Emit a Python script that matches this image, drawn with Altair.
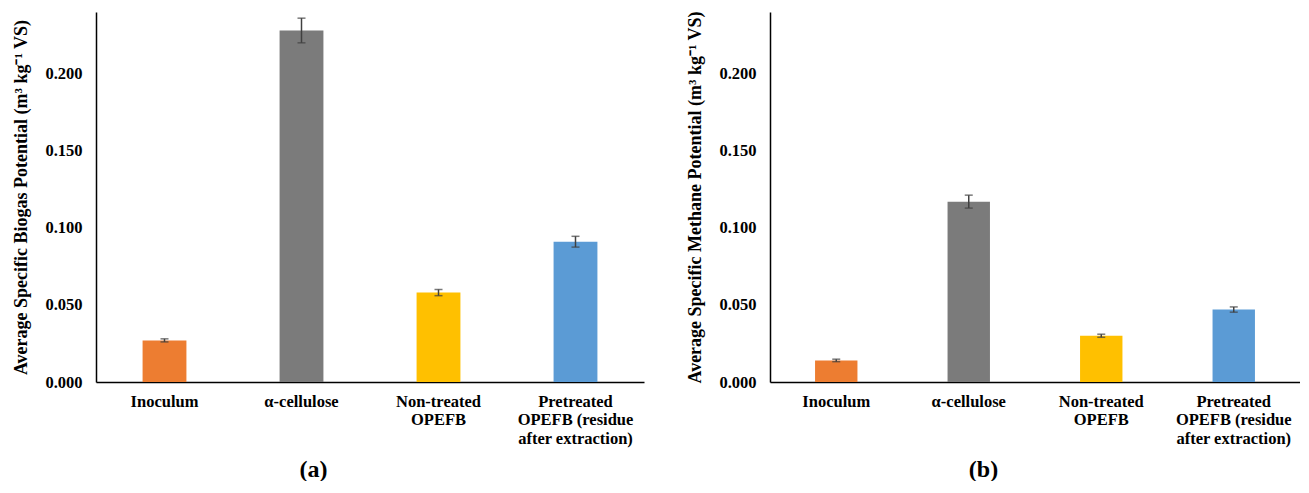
import altair as alt
import pandas as pd

categories = ["Inoculum", "α-cellulose", "Non-treated\nOPEFB", "Pretreated\nOPEFB (residue\nafter extraction)"]
colors = ["#ED7D31", "#7B7B7B", "#FFC000", "#5B9BD5"]

biogas_values = [0.027, 0.228, 0.058, 0.091]
biogas_errors = [0.001, 0.008, 0.002, 0.0035]

methane_values = [0.014, 0.117, 0.030, 0.047]
methane_errors = [0.0008, 0.0042, 0.001, 0.0017]

FONT = "'Liberation Serif', 'Times New Roman', Times, serif"


def panel(values, errors, ytitle, label, width, height, title_x):
    df = pd.DataFrame({
        "cat": categories,
        "val": values,
        "lo": [v - e for v, e in zip(values, errors)],
        "hi": [v + e for v, e in zip(values, errors)],
    })
    x = alt.X("cat:N", sort=categories,
              scale=alt.Scale(paddingInner=0.68, paddingOuter=0.34),
              axis=alt.Axis(title=label, labelAngle=0, ticks=False,
                            labelExpr="split(datum.label, '\\n')",
                            labelFont=FONT, labelFontWeight="bold", labelFontSize=16.5,
                            labelColor="#000000", labelPadding=11, labelLineHeight=18.5,
                            titleFont=FONT, titleFontWeight="bold", titleFontSize=24,
                            titleColor="#000000", titleX=title_x, titleY=87,
                            titleBaseline="middle",
                            domainColor="#000000", domainWidth=1.5))
    yscale = alt.Scale(domain=[0, 0.24], nice=False)
    bars = alt.Chart(df).mark_bar().encode(
        x=x,
        y=alt.Y("val:Q", scale=yscale,
                axis=alt.Axis(title=ytitle, values=[0, 0.05, 0.1, 0.15, 0.2], format=".3f",
                              grid=False, ticks=False,
                              labelFont=FONT, labelFontWeight="bold", labelFontSize=16.5,
                              labelColor="#000000", labelPadding=14,
                              titleFont=FONT, titleFontWeight="bold", titleFontSize=18,
                              titleColor="#000000", titlePadding=14,
                              domainColor="#000000", domainWidth=1.5)),
        color=alt.Color("cat:N", scale=alt.Scale(domain=categories, range=colors), legend=None),
    )
    rules = alt.Chart(df).mark_rule(color="#404040", strokeWidth=1.5).encode(
        x=alt.X("cat:N", sort=categories), y="lo:Q", y2="hi:Q")
    caps_lo = alt.Chart(df).mark_tick(color="#404040", thickness=1.5, size=8).encode(
        x=alt.X("cat:N", sort=categories), y="lo:Q")
    caps_hi = alt.Chart(df).mark_tick(color="#404040", thickness=1.5, size=8).encode(
        x=alt.X("cat:N", sort=categories), y="hi:Q")
    return alt.layer(bars, rules, caps_lo, caps_hi).properties(width=width, height=height)


left = panel(biogas_values, biogas_errors,
             "Average Specific Biogas Potential (m³ kg⁻¹ VS)", "(a)", 548, 370, 217)
right = panel(methane_values, methane_errors,
              "Average Specific Methane Potential (m³ kg⁻¹ VS)", "(b)", 530, 370, 213)

chart = alt.hconcat(left, right, spacing=42).properties(
    padding={"left": 4, "top": 2, "right": 0, "bottom": 0}
).configure_view(stroke=None)

chart.save("out.html", embed_options={"renderer": "svg", "actions": False})
